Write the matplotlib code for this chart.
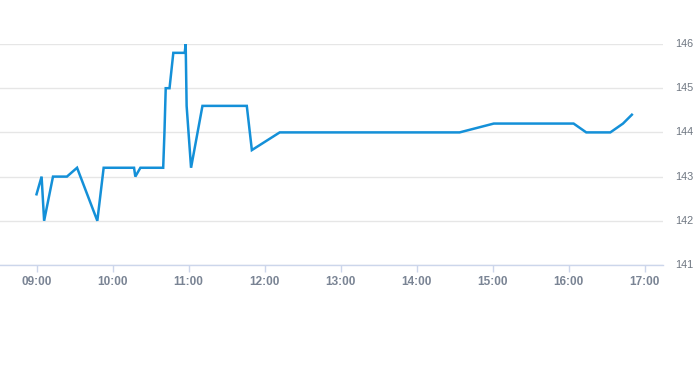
import pandas as pd
import matplotlib
matplotlib.use("Agg")
import matplotlib.pyplot as plt
import matplotlib.dates as mdates

plt.rcParams["font.family"] = ["Liberation Sans", "DejaVu Sans"]

# Intraday price series (time of day, price)
times = [
    "09:00:00", "09:04:00", "09:06:00", "09:13:00", "09:24:00", "09:32:00", "09:48:00", "09:53:00",
    "10:17:00", "10:18:00", "10:22:00", "10:40:00", "10:41:00", "10:42:00", "10:45:00", "10:48:00",
    "10:57:00", "10:57:45", "10:58:30", "11:02:00", "11:11:00", "11:46:00", "11:50:00", "12:12:00",
    "14:34:00", "15:01:00", "16:04:00", "16:14:00", "16:33:00", "16:43:00", "16:50:00",
]
prices = [
    142.6, 143.0, 142.0, 143.0, 143.0, 143.2, 142.0, 143.2,
    143.2, 143.0, 143.2, 143.2, 144.0, 145.0, 145.0, 145.8,
    145.8, 146.0, 144.6, 143.2, 144.6, 144.6, 143.6, 144.0,
    144.0, 144.2, 144.2, 144.0, 144.0, 144.2, 144.4,
]
y_ticks = [141, 142, 143, 144, 145, 146]
x_ticks = ["09:00", "10:00", "11:00", "12:00", "13:00", "14:00", "15:00", "16:00", "17:00"]

day = "2024-01-02 "
t = pd.to_datetime([day + s for s in times], format="%Y-%m-%d %H:%M:%S")
tick_t = pd.to_datetime([day + s for s in x_ticks], format="%Y-%m-%d %H:%M")

fig = plt.figure(figsize=(6.93, 3.65), dpi=100)
ax = fig.add_axes([0.0, 1 - 265 / 365, 663 / 693, (265 - 44) / 365])

ax.plot(t, prices, color="#1490d8", linewidth=1.8, solid_joinstyle="miter")

ax.set_ylim(141, 146)
ax.set_yticks(y_ticks)
ax.yaxis.tick_right()
ax.tick_params(axis="y", length=0, pad=9, labelsize=7.8, labelcolor="#6e7681")
for lbl in ax.get_yticklabels():
    lbl.set_verticalalignment("center")

ax.set_xlim(pd.Timestamp(day + "08:31:10"), pd.Timestamp(day + "17:14:35"))
ax.set_xticks(tick_t)
ax.xaxis.set_major_formatter(mdates.DateFormatter("%H:%M"))
ax.tick_params(axis="x", length=5, width=1, color="#ccd6eb", pad=3,
               labelsize=8.5, labelcolor="#7a8494")
for lbl in ax.get_xticklabels():
    lbl.set_fontweight("bold")

ax.grid(axis="y", color="#e6e6e6", linewidth=1)
ax.set_axisbelow(True)
for side in ["top", "left", "right"]:
    ax.spines[side].set_visible(False)
ax.spines["bottom"].set_color("#ccd6eb")
ax.spines["bottom"].set_linewidth(1)

fig.savefig("out.png", dpi=100)
